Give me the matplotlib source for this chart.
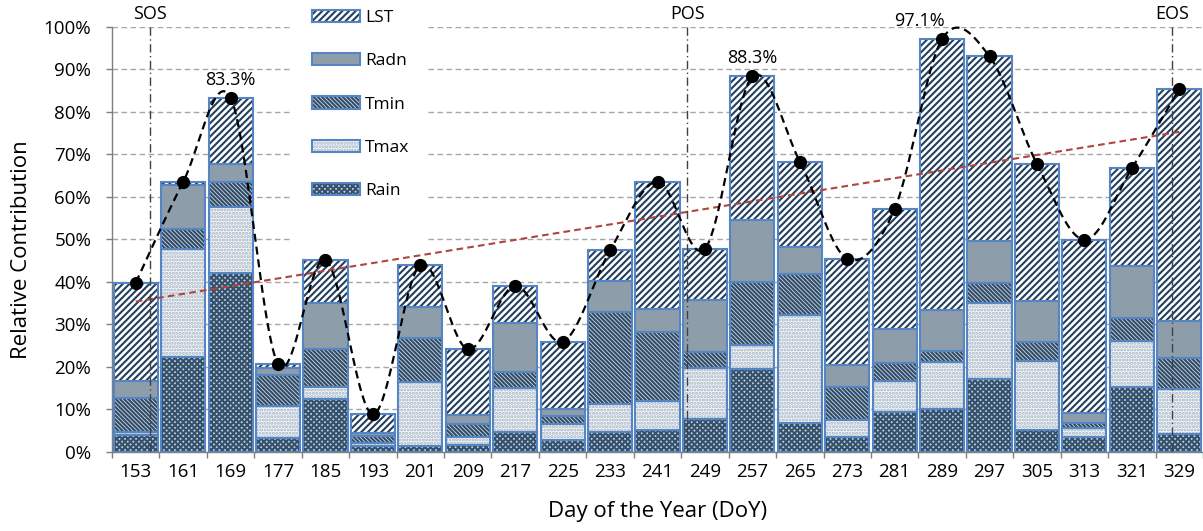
import numpy as np
import matplotlib
matplotlib.use("Agg")
import matplotlib.pyplot as plt
from matplotlib.patches import Patch, Rectangle
from matplotlib.legend_handler import HandlerTuple
from matplotlib.ticker import FixedLocator, PercentFormatter

plt.rcParams['font.family'] = ['Open Sans', 'DejaVu Sans']
plt.rcParams['hatch.linewidth'] = 1.5

# ---------------- data ----------------
doy = [153, 161, 169, 177, 185, 193, 201, 209, 217, 225, 233, 241,
       249, 257, 265, 273, 281, 289, 297, 305, 313, 321, 329]
rain = [4.0, 22.3, 42.2, 3.2, 12.5, 1.5, 1.5, 1.6, 4.6, 2.8, 4.6, 5.2,
        7.8, 19.5, 6.9, 3.6, 9.3, 10.1, 17.1, 5.2, 3.5, 15.4, 4.2]
tmax = [0.8, 25.4, 15.5, 7.5, 2.9, 0.7, 14.9, 1.9, 10.5, 3.9, 6.6, 6.9,
        11.9, 5.7, 25.3, 3.9, 7.5, 11.1, 18.0, 16.2, 2.1, 10.7, 10.5]
tmin = [7.8, 4.7, 5.9, 7.4, 8.8, 1.6, 10.3, 3.1, 3.6, 1.8, 21.8, 16.2,
        3.9, 14.7, 9.7, 7.8, 4.1, 2.6, 4.6, 4.4, 1.3, 5.3, 7.3]
radn = [4.0, 10.3, 4.2, 1.6, 10.8, 0.6, 7.3, 2.1, 11.7, 1.5, 7.1, 5.3,
        12.1, 14.7, 6.3, 5.2, 8.1, 9.6, 10.0, 9.6, 2.2, 12.4, 8.9]
lst = [23.2, 0.8, 15.5, 1.0, 10.2, 4.5, 10.0, 15.5, 8.7, 15.9, 7.3, 30.0,
       12.1, 33.7, 20.1, 24.9, 28.2, 63.7, 43.3, 32.3, 40.8, 22.9, 54.4]
series_names = ['Rain', 'Tmax', 'Tmin', 'Radn', 'LST']
event_names = ['SOS', 'POS', 'EOS']
event_doy = [155.4, 246.0, 327.8]
labelled_doy = [169, 257, 289]

# ---------------- figure ----------------
W, H = 1203, 531
fig = plt.figure(figsize=(W / 100, H / 100), dpi=100)
ax = fig.add_axes([112 / W, 1 - 452 / H, 1091 / W, (452 - 26.7) / H])

n = len(doy)
x = np.arange(n)
values = [rain, tmax, tmin, radn, lst]
edge_blue = '#5585C2'
styles = {
    'Rain': dict(fc='#c3ced7', hc='#34516d', hatch='xxxxxx'),
    'Tmax': dict(fc='#f5f7f9', hc='#a3b4c4', hatch='.....'),
    'Tmin': dict(fc='#cfd8df', hc='#2f4b68', hatch='\\' * 8),
    'Radn': dict(fc='#8e9daa', hc='#8e9daa', hatch=None),
    'LST': dict(fc='#ffffff', hc='#233f5e', hatch='/////'),
}
width = 0.93
bottom = np.zeros(n)
handles = {}
for name, vals in zip(series_names, values):
    st = styles[name]
    vals = np.asarray(vals, dtype=float)
    ax.bar(x, vals, width, bottom=bottom, color=st['fc'], edgecolor=st['hc'],
           hatch=st['hatch'], linewidth=0, zorder=2)
    ax.bar(x, vals, width, bottom=bottom, facecolor='none', edgecolor=edge_blue,
           linewidth=1.5, zorder=3)
    bottom += vals
    handles[name] = (Patch(facecolor=st['fc'], edgecolor=st['hc'], hatch=st['hatch'], linewidth=0),
                     Patch(facecolor='none', edgecolor=edge_blue, linewidth=1.5))
totals = bottom.copy()

# smooth curve (Catmull-Rom as Bezier) through totals
def smooth(xs, ys, m=40):
    P = np.column_stack([xs, ys]).astype(float)
    out = []
    for i in range(len(P) - 1):
        p0 = P[i - 1] if i > 0 else P[i]
        p1, p2 = P[i], P[i + 1]
        p3 = P[i + 2] if i + 2 < len(P) else P[i + 1]
        c1 = p1 + (p2 - p0) / 6
        c2 = p2 - (p3 - p1) / 6
        t = np.linspace(0, 1, m)[:, None]
        seg = (1 - t) ** 3 * p1 + 3 * (1 - t) ** 2 * t * c1 + 3 * (1 - t) * t ** 2 * c2 + t ** 3 * p2
        out.append(seg if i == 0 else seg[1:])
    return np.vstack(out)

curve = smooth(x, totals)
ax.plot(curve[:, 0], curve[:, 1], color='black', lw=1.6, ls=(0, (3.6, 2.2)), zorder=5, clip_on=False)
ax.plot(x, totals, 'o', color='black', ms=8.5, zorder=6, clip_on=False)

# linear trend
coef = np.polyfit(x, totals, 1)
ax.plot([x[0], x[-1]], np.polyval(coef, [x[0], x[-1]]), color='#B0453E', lw=1.5,
        ls=(0, (3.2, 2.0)), zorder=4)

# data labels
for d in labelled_doy:
    i = doy.index(d)
    dx = -16 if d == 289 else 0
    ax.annotate(f'{totals[i]:.1f}%', (i, totals[i]), xytext=(dx, 13), textcoords='offset points',
                ha='center', va='center', fontsize=13, zorder=7)

# phenology event lines
for name, d in zip(event_names, event_doy):
    xp = (d - doy[0]) / (doy[1] - doy[0])
    ax.vlines(xp, 0, 100, colors='#404040', linestyles=[(0, (6, 2.5, 1, 2.5))], lw=1, zorder=4)
    ax.text(xp, 102.9, name, ha='center', va='center', fontsize=13, clip_on=False)

# axes styling
ax.set_xlim(-0.5, n - 0.5)
ax.set_ylim(0, 100)
ax.set_yticks(np.arange(0, 101, 10))
ax.yaxis.set_major_formatter(PercentFormatter(decimals=0))
ax.set_xticks(x)
ax.set_xticklabels([str(d) for d in doy])
ax.xaxis.set_minor_locator(FixedLocator(np.arange(-0.5, n, 1.0)))
ax.tick_params(axis='x', which='major', length=0, pad=8, labelsize=13.5)
ax.tick_params(axis='x', which='minor', length=4.5, width=1, color='#7f7f7f', direction='out')
ax.tick_params(axis='y', length=4, width=1, color='#7f7f7f', pad=11, labelsize=13.5)
for s in ['top', 'right']:
    ax.spines[s].set_visible(False)
for s in ['left', 'bottom']:
    ax.spines[s].set_color('#7f7f7f')
    ax.spines[s].set_linewidth(1)
ax.yaxis.grid(True, color='#a6a6a6', ls=(0, (4, 2.5)), lw=1)
ax.set_axisbelow(True)

fig.text(22 / W, 1 - 250 / H, 'Relative Contribution', rotation=90, ha='center', va='center', fontsize=16)
fig.text(658 / W, 1 - 512 / H, 'Day of the Year (DoY)', ha='center', va='center', fontsize=16)

# legend box
fig.add_artist(Rectangle((290 / W, 1 - 245 / H), (428 - 290) / W, 245 / H, transform=fig.transFigure,
                         facecolor='white', edgecolor='none', zorder=1))
order = ['LST', 'Radn', 'Tmin', 'Tmax', 'Rain']
leg = fig.legend([handles[k] for k in order], order, loc='upper left',
                 bbox_to_anchor=(312 / W, 1 - 10 / H), frameon=False, borderpad=0, borderaxespad=0,
                 fontsize=12.5, handlelength=2.75, handleheight=0.7, handletextpad=0.3,
                 labelspacing=1.56, handler_map={tuple: HandlerTuple(ndivide=1, pad=0)})
leg.set_zorder(5)

fig.savefig('out.png', dpi=100)
